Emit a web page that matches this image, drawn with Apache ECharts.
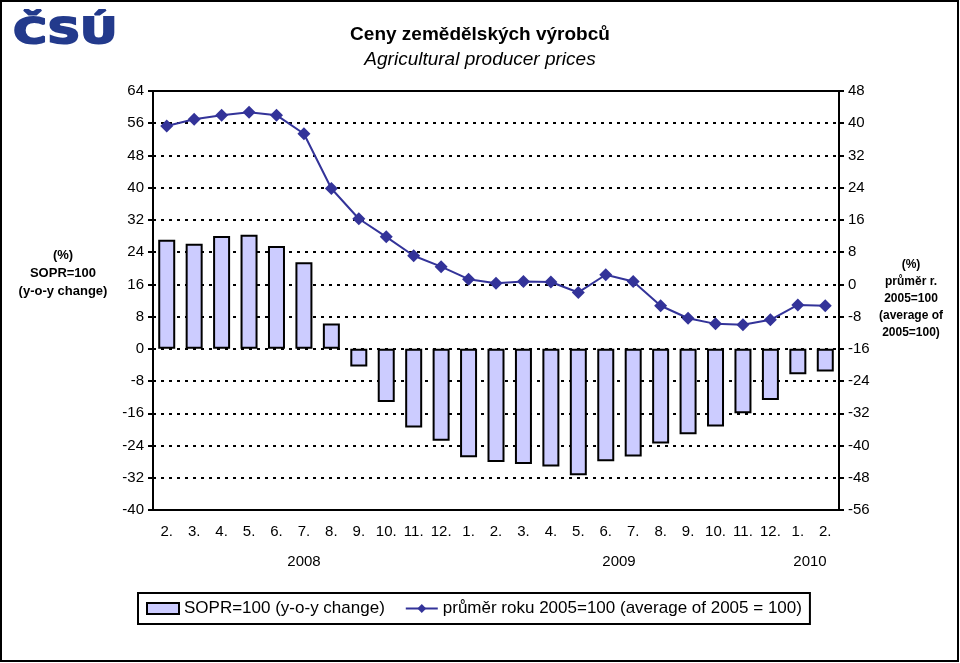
<!DOCTYPE html>
<html>
<head>
<meta charset="utf-8">
<script src="https://cdn.jsdelivr.net/npm/echarts@6/dist/echarts.min.js"></script>
<style>
  html, body { margin: 0; padding: 0; background: #fff; }
  #chart { width: 960px; height: 663px; }
</style>
</head>
<body>
<div id="chart"></div>
<script>
// měsíce (2/2008 - 2/2010)
const months = ['2.', '3.', '4.', '5.', '6.', '7.', '8.', '9.', '10.', '11.', '12.',
  '1.', '2.', '3.', '4.', '5.', '6.', '7.', '8.', '9.', '10.', '11.', '12.', '1.', '2.']
const years = ['2008', '2009', '2010']
// SOPR=100 (y-o-y change), levá osa
const yoyValues = [27.1, 26.1, 28.0, 28.3, 25.5, 21.5, 6.3, -4.4, -13.2, -19.5, -22.8, -26.9,
  -28.1, -28.6, -29.2, -31.4, -27.9, -26.7, -23.5, -21.2, -19.3, -16.0, -12.7, -6.3, -5.6]
// průměr roku 2005=100, pravá osa
const avgValues = [39.3, 41.0, 42.0, 42.7, 42.0, 37.4, 23.8, 16.3, 11.8, 7.1, 4.4, 1.3,
  0.3, 0.7, 0.6, -2.0, 2.4, 0.7, -5.3, -8.4, -9.8, -10.0, -8.8, -5.1, -5.3]

const font = 'Liberation Sans, Arial, sans-serif'
const chart = echarts.init(document.getElementById('chart'))

const option = {
  backgroundColor: '#fff',
  animation: false,
  textStyle: { fontFamily: font, color: '#000' },
  title: {
    text: 'Ceny zemědělských výrobců',
    subtext: 'Agricultural producer prices',
    left: 'center',
    top: 20,
    itemGap: 6,
    textStyle: { fontFamily: font, fontSize: 19, fontWeight: 'bold', color: '#000' },
    subtextStyle: { fontFamily: font, fontSize: 19, fontStyle: 'italic', color: '#000' }
  },
  grid: {
    left: 153, right: 121, top: 91, bottom: 153,
    show: true, borderColor: '#000', borderWidth: 2
  },
  legend: {
    left: 138, top: 593,
    itemWidth: 32, itemHeight: 11,
    itemGap: 20,
    padding: [7, 8, 7, 8],
    borderColor: '#000', borderWidth: 2,
    textStyle: { fontFamily: font, fontSize: 17, color: '#000' },
    data: [
      { name: 'SOPR=100 (y-o-y change)', icon: 'rect' },
      { name: 'průměr roku 2005=100 (average of 2005 = 100)' }
    ]
  },
  xAxis: {
    type: 'category',
    data: months,
    axisLine: { onZero: false, lineStyle: { color: '#000', width: 2 } },
    axisTick: { show: false },
    axisLabel: { color: '#000', fontSize: 15, margin: 14, interval: 0 }
  },
  yAxis: [
    {
      type: 'value', min: -40, max: 64, interval: 8,
      axisLine: { show: true, lineStyle: { color: '#000', width: 2 } },
      axisTick: { show: true, length: 5, lineStyle: { color: '#000', width: 2 } },
      axisLabel: { color: '#000', fontSize: 15, margin: 9 },
      splitLine: { show: true, lineStyle: { color: '#000', width: 2, type: [3, 5] } }
    },
    {
      type: 'value', min: -56, max: 48, interval: 8,
      axisLine: { show: true, lineStyle: { color: '#000', width: 2 } },
      axisTick: { show: true, length: 5, lineStyle: { color: '#000', width: 2 } },
      axisLabel: { color: '#000', fontSize: 15, margin: 9 },
      splitLine: { show: false }
    }
  ],
  series: [
    {
      name: 'SOPR=100 (y-o-y change)',
      type: 'bar',
      yAxisIndex: 0,
      data: yoyValues,
      barWidth: 17,
      itemStyle: { color: '#ccccff', borderColor: '#000', borderWidth: 2 }
    },
    {
      name: 'průměr roku 2005=100 (average of 2005 = 100)',
      type: 'line',
      yAxisIndex: 1,
      data: avgValues,
      symbol: 'diamond',
      symbolSize: 13,
      lineStyle: { color: '#333399', width: 2 },
      itemStyle: { color: '#333399' }
    }
  ],
  graphic: [
    { type: 'rect', shape: { x: 1, y: 1, width: 957, height: 660 },
      style: { fill: 'none', stroke: '#000', lineWidth: 2 }, silent: true },
    { type: 'text', left: 12, top: 15, scaleX: 1.3,
      style: { text: 'ČSÚ', fontFamily: 'DejaVu Sans', fontWeight: 'bold', fontSize: 35, fill: '#233a8c',
        stroke: '#233a8c', lineWidth: 2 } },
    { type: 'text', x: 63, y: 273,
      style: { text: '(%)\nSOPR=100\n(y-o-y change)', fontFamily: font, fontWeight: 'bold', fontSize: 13,
        lineHeight: 18, fill: '#000', align: 'center', verticalAlign: 'middle' } },
    { type: 'text', x: 911, y: 299,
      style: { text: '(%)\nprůměr r.\n2005=100\n(average of\n2005=100)', fontFamily: font, fontWeight: 'bold',
        fontSize: 12, lineHeight: 17, fill: '#000', align: 'center', verticalAlign: 'middle' } },
    { type: 'text', x: 304, y: 562,
      style: { text: years[0], fontFamily: font, fontSize: 15, fill: '#000', align: 'center', verticalAlign: 'middle' } },
    { type: 'text', x: 619, y: 562,
      style: { text: years[1], fontFamily: font, fontSize: 15, fill: '#000', align: 'center', verticalAlign: 'middle' } },
    { type: 'text', x: 810, y: 562,
      style: { text: years[2], fontFamily: font, fontSize: 15, fill: '#000', align: 'center', verticalAlign: 'middle' } }
  ]
}

chart.setOption(option)
</script>
</body>
</html>
